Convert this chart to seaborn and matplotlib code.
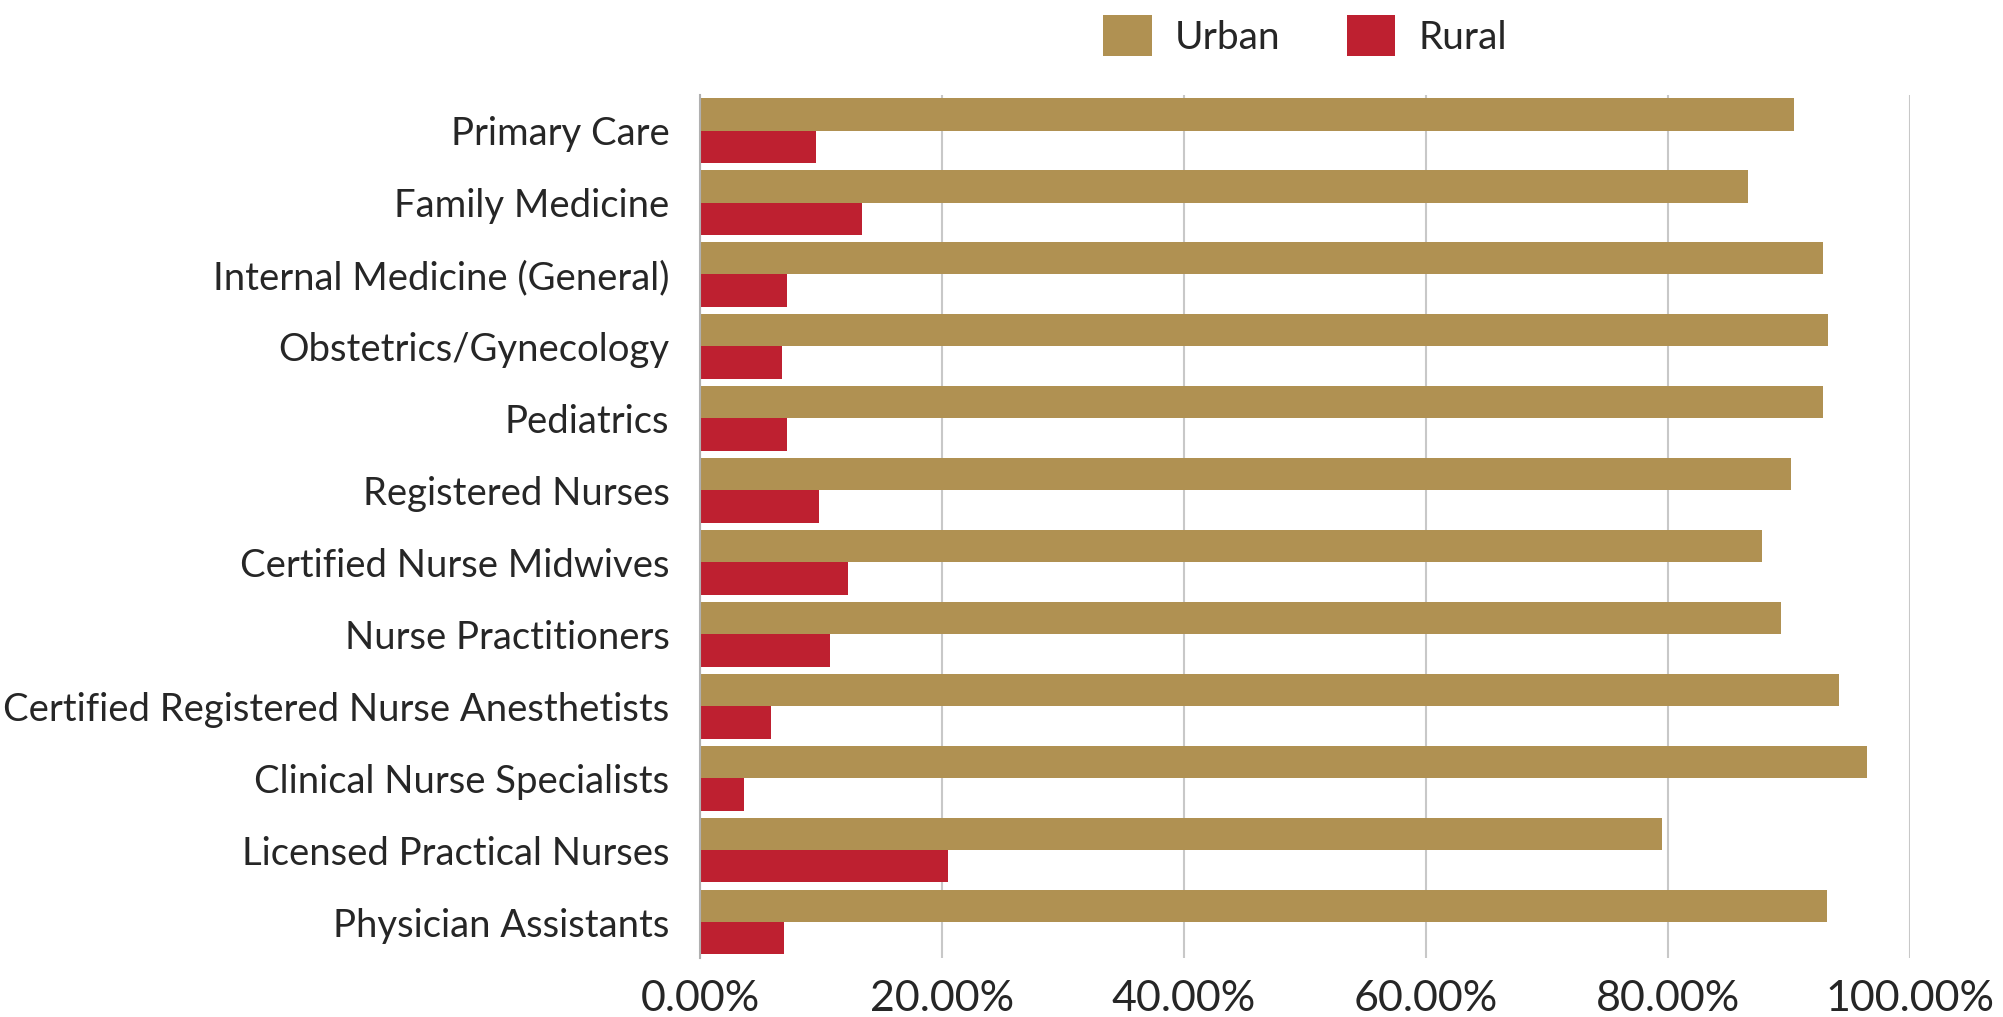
import pandas as pd
import matplotlib
matplotlib.use("Agg")
import matplotlib.pyplot as plt
import seaborn as sns
from matplotlib.ticker import PercentFormatter

categories = [
    "Primary Care", "Family Medicine", "Internal Medicine (General)",
    "Obstetrics/Gynecology", "Pediatrics", "Registered Nurses",
    "Certified Nurse Midwives", "Nurse Practitioners",
    "Certified Registered Nurse Anesthetists", "Clinical Nurse Specialists",
    "Licensed Practical Nurses", "Physician Assistants",
]
urban = [0.904, 0.866, 0.928, 0.932, 0.928, 0.902, 0.878, 0.893, 0.941, 0.964, 0.795, 0.931]
rural = [0.096, 0.134, 0.072, 0.068, 0.072, 0.098, 0.122, 0.107, 0.059, 0.036, 0.205, 0.069]
groups = ["Urban", "Rural"]
colors = ["#B09152", "#BE2030"]

df = pd.DataFrame({
    "category": categories * 2,
    "group": ["Urban"] * len(categories) + ["Rural"] * len(categories),
    "share": urban + rural,
})

sns.set_style("white")
plt.rcParams["font.family"] = ["Lato", "DejaVu Sans"]

fig = plt.figure(figsize=(20.03, 10.17), dpi=100)
ax = fig.add_axes([0.3495, 0.058, 0.6041, 0.849])

sns.barplot(data=df, y="category", x="share", hue="group", hue_order=groups,
            palette=colors, saturation=1, orient="h", width=0.9, linewidth=0,
            ax=ax, legend=True)

ax.set_xlim(0, 1)
ax.set_xticks([0, 0.2, 0.4, 0.6, 0.8, 1.0])
ax.xaxis.set_major_formatter(PercentFormatter(1, decimals=2))
ax.grid(axis="x", color="#c8c8c8", linewidth=1.5)
ax.set_axisbelow(True)
ax.set_xlabel("")
ax.set_ylabel("")
for s in ["top", "right", "bottom"]:
    ax.spines[s].set_visible(False)
ax.spines["left"].set_color("#b0b0b0")
ax.spines["left"].set_linewidth(1.5)
ax.tick_params(axis="x", length=0, pad=16, labelsize=31)
ax.tick_params(axis="y", length=0, pad=22, labelsize=27.5)

ax.legend(loc="lower center", bbox_to_anchor=(0.5, 1.0), ncol=2, frameon=False,
          fontsize=28, handlelength=1.25, handleheight=1.25, handletextpad=0.6,
          columnspacing=1.7, borderaxespad=0.58)

fig.savefig("out.png", dpi=100)
